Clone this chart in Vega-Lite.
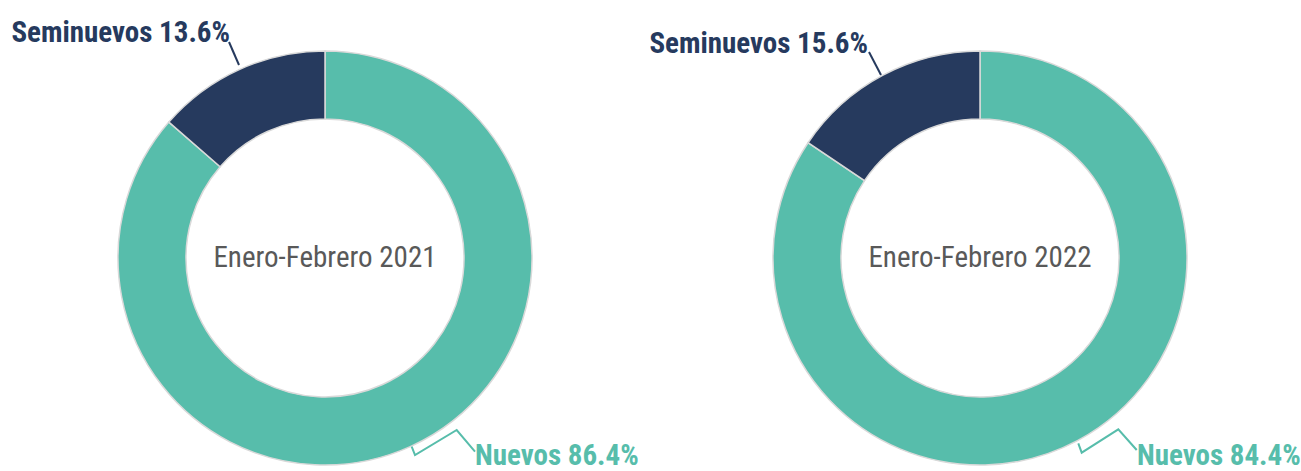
{
  "$schema": "https://vega.github.io/schema/vega-lite/v6.json",
  "background": "white",
  "padding": {"left": 5, "top": 19, "right": 0, "bottom": 0},
  "spacing": 15,
  "bounds": "flush",
  "config": {
    "view": {"stroke": null},
    "font": "Roboto Condensed, DejaVu Sans Condensed, sans-serif"
  },
  "datasets": {
    "slices": [
      {"periodo": "2021", "segmento": "Nuevos", "pct": 86.4, "orden": 1},
      {"periodo": "2021", "segmento": "Seminuevos", "pct": 13.6, "orden": 2},
      {"periodo": "2022", "segmento": "Nuevos", "pct": 84.4, "orden": 1},
      {"periodo": "2022", "segmento": "Seminuevos", "pct": 15.6, "orden": 2}
    ],
    "etiquetas": [
      {"periodo": "2021", "segmento": "Seminuevos", "texto": "Seminuevos 13.6%", "x": -95, "y": 216},
      {"periodo": "2021", "segmento": "Nuevos", "texto": "Nuevos 86.4%", "x": 150, "y": -207},
      {"periodo": "2022", "segmento": "Seminuevos", "texto": "Seminuevos 15.6%", "x": -112, "y": 205},
      {"periodo": "2022", "segmento": "Nuevos", "texto": "Nuevos 84.4%", "x": 157, "y": -207}
    ],
    "centros": [
      {"periodo": "2021", "texto": "Enero-Febrero 2021", "x": 0, "y": -9},
      {"periodo": "2022", "texto": "Enero-Febrero 2022", "x": 0, "y": -9}
    ],
    "guias": [
      {"periodo": "2021", "segmento": "Seminuevos", "paso": 1, "x": -96, "y": 216},
      {"periodo": "2021", "segmento": "Seminuevos", "paso": 2, "x": -86, "y": 193},
      {"periodo": "2021", "segmento": "Nuevos", "paso": 1, "x": 86.7, "y": -188.7},
      {"periodo": "2021", "segmento": "Nuevos", "paso": 2, "x": 90, "y": -197},
      {"periodo": "2021", "segmento": "Nuevos", "paso": 3, "x": 131.7, "y": -172},
      {"periodo": "2021", "segmento": "Nuevos", "paso": 4, "x": 150, "y": -193.7},
      {"periodo": "2022", "segmento": "Seminuevos", "paso": 1, "x": -111, "y": 206},
      {"periodo": "2022", "segmento": "Seminuevos", "paso": 2, "x": -99, "y": 183},
      {"periodo": "2022", "segmento": "Nuevos", "paso": 1, "x": 98.3, "y": -185.3},
      {"periodo": "2022", "segmento": "Nuevos", "paso": 2, "x": 101.7, "y": -194.7},
      {"periodo": "2022", "segmento": "Nuevos", "paso": 3, "x": 138.3, "y": -171.3},
      {"periodo": "2022", "segmento": "Nuevos", "paso": 4, "x": 156.7, "y": -192}
    ]
  },
  "hconcat": [
    {
      "width": 640,
      "height": 426,
      "layer": [
        {
          "data": {"name": "slices"},
          "transform": [{"filter": "datum.periodo === '2021'"}],
          "mark": {"type": "arc", "outerRadius": 207, "innerRadius": 139, "stroke": "#d9d9d9", "strokeWidth": 1.5},
          "encoding": {
            "theta": {"field": "pct", "type": "quantitative", "stack": true},
            "order": {"field": "orden", "type": "quantitative"},
            "color": {"field": "segmento", "type": "nominal", "scale": {"domain": ["Nuevos", "Seminuevos"], "range": ["#57BDAB", "#263A5E"]}, "legend": null}
          }
        },
        {
          "data": {"name": "guias"},
          "transform": [{"filter": "datum.periodo === '2021'"}],
          "mark": {"type": "line", "strokeWidth": 2},
          "encoding": {
            "x": {"field": "x", "type": "quantitative", "scale": {"domain": [-320, 320], "nice": false, "zero": false}, "axis": null},
            "y": {"field": "y", "type": "quantitative", "scale": {"domain": [-213, 213], "nice": false, "zero": false}, "axis": null},
            "color": {"field": "segmento", "type": "nominal", "scale": {"domain": ["Nuevos", "Seminuevos"], "range": ["#57BDAB", "#263A5E"]}, "legend": null},
            "detail": {"field": "segmento"},
            "order": {"field": "paso", "type": "quantitative"}
          }
        },
        {
          "data": {"name": "etiquetas"},
          "transform": [{"filter": "datum.periodo === '2021' && datum.segmento === 'Seminuevos'"}],
          "mark": {"type": "text", "align": "right", "baseline": "alphabetic", "fontSize": 29, "fontWeight": "bold"},
          "encoding": {
            "x": {"field": "x", "type": "quantitative", "scale": {"domain": [-320, 320], "nice": false, "zero": false}, "axis": null},
            "y": {"field": "y", "type": "quantitative", "scale": {"domain": [-213, 213], "nice": false, "zero": false}, "axis": null},
            "text": {"field": "texto"},
            "color": {"field": "segmento", "type": "nominal", "scale": {"domain": ["Nuevos", "Seminuevos"], "range": ["#57BDAB", "#263A5E"]}, "legend": null}
          }
        },
        {
          "data": {"name": "etiquetas"},
          "transform": [{"filter": "datum.periodo === '2021' && datum.segmento === 'Nuevos'"}],
          "mark": {"type": "text", "align": "left", "baseline": "alphabetic", "fontSize": 29, "fontWeight": "bold"},
          "encoding": {
            "x": {"field": "x", "type": "quantitative", "scale": {"domain": [-320, 320], "nice": false, "zero": false}, "axis": null},
            "y": {"field": "y", "type": "quantitative", "scale": {"domain": [-213, 213], "nice": false, "zero": false}, "axis": null},
            "text": {"field": "texto"},
            "color": {"field": "segmento", "type": "nominal", "scale": {"domain": ["Nuevos", "Seminuevos"], "range": ["#57BDAB", "#263A5E"]}, "legend": null}
          }
        },
        {
          "data": {"name": "centros"},
          "transform": [{"filter": "datum.periodo === '2021'"}],
          "mark": {"type": "text", "align": "center", "baseline": "alphabetic", "fontSize": 29, "color": "#595959"},
          "encoding": {
            "x": {"field": "x", "type": "quantitative", "scale": {"domain": [-320, 320], "nice": false, "zero": false}, "axis": null},
            "y": {"field": "y", "type": "quantitative", "scale": {"domain": [-213, 213], "nice": false, "zero": false}, "axis": null},
            "text": {"field": "texto"}
          }
        }
      ]
    },
    {
      "width": 640,
      "height": 426,
      "layer": [
        {
          "data": {"name": "slices"},
          "transform": [{"filter": "datum.periodo === '2022'"}],
          "mark": {"type": "arc", "outerRadius": 207, "innerRadius": 139, "stroke": "#d9d9d9", "strokeWidth": 1.5},
          "encoding": {
            "theta": {"field": "pct", "type": "quantitative", "stack": true},
            "order": {"field": "orden", "type": "quantitative"},
            "color": {"field": "segmento", "type": "nominal", "scale": {"domain": ["Nuevos", "Seminuevos"], "range": ["#57BDAB", "#263A5E"]}, "legend": null}
          }
        },
        {
          "data": {"name": "guias"},
          "transform": [{"filter": "datum.periodo === '2022'"}],
          "mark": {"type": "line", "strokeWidth": 2},
          "encoding": {
            "x": {"field": "x", "type": "quantitative", "scale": {"domain": [-320, 320], "nice": false, "zero": false}, "axis": null},
            "y": {"field": "y", "type": "quantitative", "scale": {"domain": [-213, 213], "nice": false, "zero": false}, "axis": null},
            "color": {"field": "segmento", "type": "nominal", "scale": {"domain": ["Nuevos", "Seminuevos"], "range": ["#57BDAB", "#263A5E"]}, "legend": null},
            "detail": {"field": "segmento"},
            "order": {"field": "paso", "type": "quantitative"}
          }
        },
        {
          "data": {"name": "etiquetas"},
          "transform": [{"filter": "datum.periodo === '2022' && datum.segmento === 'Seminuevos'"}],
          "mark": {"type": "text", "align": "right", "baseline": "alphabetic", "fontSize": 29, "fontWeight": "bold"},
          "encoding": {
            "x": {"field": "x", "type": "quantitative", "scale": {"domain": [-320, 320], "nice": false, "zero": false}, "axis": null},
            "y": {"field": "y", "type": "quantitative", "scale": {"domain": [-213, 213], "nice": false, "zero": false}, "axis": null},
            "text": {"field": "texto"},
            "color": {"field": "segmento", "type": "nominal", "scale": {"domain": ["Nuevos", "Seminuevos"], "range": ["#57BDAB", "#263A5E"]}, "legend": null}
          }
        },
        {
          "data": {"name": "etiquetas"},
          "transform": [{"filter": "datum.periodo === '2022' && datum.segmento === 'Nuevos'"}],
          "mark": {"type": "text", "align": "left", "baseline": "alphabetic", "fontSize": 29, "fontWeight": "bold"},
          "encoding": {
            "x": {"field": "x", "type": "quantitative", "scale": {"domain": [-320, 320], "nice": false, "zero": false}, "axis": null},
            "y": {"field": "y", "type": "quantitative", "scale": {"domain": [-213, 213], "nice": false, "zero": false}, "axis": null},
            "text": {"field": "texto"},
            "color": {"field": "segmento", "type": "nominal", "scale": {"domain": ["Nuevos", "Seminuevos"], "range": ["#57BDAB", "#263A5E"]}, "legend": null}
          }
        },
        {
          "data": {"name": "centros"},
          "transform": [{"filter": "datum.periodo === '2022'"}],
          "mark": {"type": "text", "align": "center", "baseline": "alphabetic", "fontSize": 29, "color": "#595959"},
          "encoding": {
            "x": {"field": "x", "type": "quantitative", "scale": {"domain": [-320, 320], "nice": false, "zero": false}, "axis": null},
            "y": {"field": "y", "type": "quantitative", "scale": {"domain": [-213, 213], "nice": false, "zero": false}, "axis": null},
            "text": {"field": "texto"}
          }
        }
      ]
    }
  ]
}
